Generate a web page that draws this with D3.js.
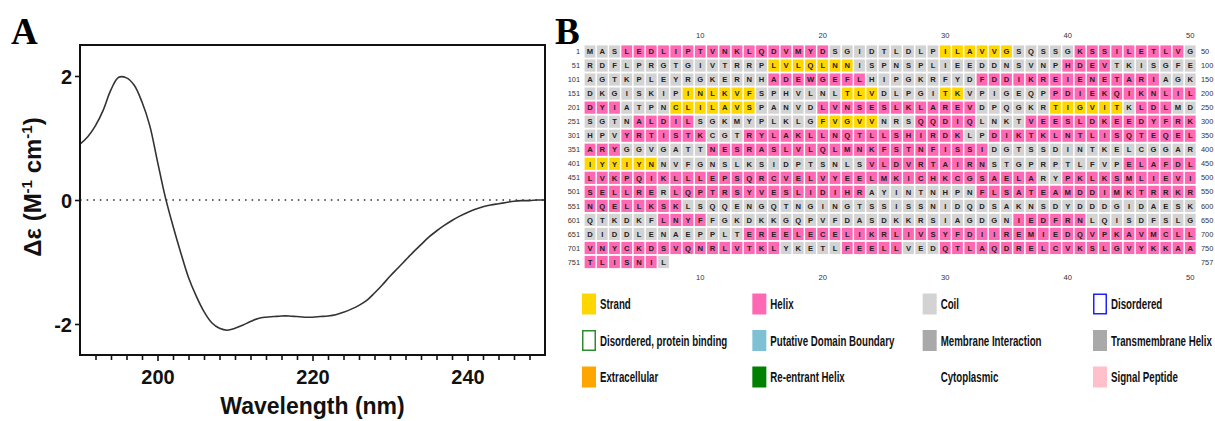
<!DOCTYPE html>
<html><head><meta charset="utf-8">
<script src="https://cdn.jsdelivr.net/npm/d3@7"></script>
<style>body{margin:0;background:#fff}svg{display:block}</style>
</head><body>
<svg id="c" width="1215" height="421"></svg>
<script>
// ---------- Panel A data (CD spectrum) ----------
const wavelength = [190,191,192,193,194,195,196,197,198,199,200,201,202,203,204,205,206,207,208,209,210,
  211,212,213,214,215,216,217,218,219,220,221,222,223,224,225,226,227,228,229,230,
  231,232,233,234,235,236,237,238,239,240,241,242,243,244,245,246,247,248,249,250];
const deltaEps = [0.90,1.02,1.20,1.45,1.78,1.98,1.97,1.85,1.58,1.20,0.62,0.05,-0.42,-0.85,-1.25,-1.55,-1.80,-1.98,-2.07,-2.10,-2.07,
  -2.02,-1.96,-1.91,-1.89,-1.88,-1.87,-1.87,-1.88,-1.89,-1.89,-1.88,-1.87,-1.85,-1.81,-1.76,-1.70,-1.62,-1.50,-1.37,-1.23,
  -1.10,-0.97,-0.84,-0.72,-0.60,-0.50,-0.41,-0.33,-0.26,-0.20,-0.15,-0.11,-0.08,-0.06,-0.04,-0.02,-0.01,-0.01,0.00,0.00];
const xMajorTicks = [200,220,240];
const xMinorTicks = [192,194,196,198,202,204,206,208,210,212,214,216,218,222,224,226,228,230,232,234,236,238,242,244,246,248];
const yTicks = [-2,0,2];

// ---------- Panel B data (sequence + secondary structure) ----------
const seqRows = [
"MASLEDLIPTVNKLQDVMYDSGIDTLDLPILAVVGSQSSGKSSILETLVG",
"RDFLPRGTGIVTRRPLVLQLNNISPNSPLIEEDDNSVNPHDEVTKISGFE",
"AGTKPLEYRGKERNHADEWGEFLHIPGKRFYDFDDIKREIENETARIAGK",
"DKGISKIPINLKVFSPHVLNLTLVDLPGITKVPIGEQPPDIEKQIKNLIL",
"DYIATPNCLILAVSPANVDLVNSESLKLAREVDPQGKRTIGVITKLDLMD",
"SGTNALDILSGKMYPLKLGFVGVVNRSQQDIQLNKTVEESLDKEEDYFRK",
"HPVYRTISTKCGTRYLAKLLNQTLLSHIRDKLPDIKTKLNTLISQTEQEL",
"ARYGGVGATTNESRASLVLQLMNKFSTNFISSIDGTSSDINTKELCGGAR",
"IYYIYNNVFGNSLKSIDPTSNLSVLDVRTAIRNSTGPRPTLFVPELAFDL",
"LVKPQIKLLLEPSQRCVELVYEELMKICHKCGSAELARYPKLKSMLIEVI",
"SELLRERLQPTRSYVESLIDIHRAYINTNHPNFLSATEAMDDIMKTRRKR",
"NQELLKSKLSQQENGQTNGINGTSSISSNIDQDSAKNSDYDDDGIDAESK",
"QTKDKFLNYFFGKDKKGQPVFDASDKKRSIAGDGNIEDFRNLQISDFSLG",
"DIDDLENAEPPLTEREELECELIKRLIVSYFDIIREMIEDQVPKAVMCLL",
"VNYCKDSVQNRLVTKLYKETLFEELLVEDQTLAQDRELCVKSLGVYKKAA",
"TLISNIL"
];
const helixRanges = [[4,20],[41,49],[90,93],[116,123],[133,147],[189,203],[220,232],[246,248],[255,259],[278,282],
  [287,300],[304,310],[314,331],[334,353],[361,383],[424,433],[445,487],[490,506],[508,523],[533,558],[607,610],
  [636,641],[664,716],[722,726],[730,756]];
const strandRanges = [[30,35],[66,72],[159,164],[172,174],[180,181],[208,214],[239,244],[270,274],[401,406]];
const columnTicks = [10,20,30,40,50];

// ---------- Legend ----------
const legendLabels = ["Strand","Helix","Coil","Disordered",
  "Disordered, protein binding","Putative Domain Boundary","Membrane Interaction","Transmembrane Helix",
  "Extracellular","Re-entrant Helix","Cytoplasmic","Signal Peptide"];
const legendFills = ["#ffd700","#ff69b4","#d3d3d3","#ffffff",
  "#ffffff","#80c0d4","#a9a9a9","#a9a9a9",
  "#ffa500","#008000","none","#ffc0cb"];
const legendStrokes = ["none","none","none","#2020ff",
  "#2e8b2e","none","none","none",
  "none","none","none","none"];

const svg = d3.select("#c");
const sans = "'Liberation Sans', Arial, Helvetica, sans-serif";
const serif = "'Liberation Serif', 'Times New Roman', serif";

// Panel letters
svg.append("text").attr("x",11).attr("y",44).attr("font-family",serif).attr("font-weight","bold")
  .attr("font-size",37).text("A");
svg.append("text").attr("x",555).attr("y",44).attr("font-family",serif).attr("font-weight","bold")
  .attr("font-size",37).text("B");

// ---------- Panel A ----------
const x = d3.scaleLinear().domain([190,250]).range([80,545]);
const y = d3.scaleLinear().domain([-2.5,2.5]).range([355,45]);
const gA = svg.append("g");

// zero line
gA.append("line").attr("x1",x(190)).attr("x2",x(250)).attr("y1",y(0)).attr("y2",y(0))
  .attr("stroke","#333").attr("stroke-width",1.6).attr("stroke-dasharray","1.6,5");

// curve
const line = d3.line().x((d,i)=>x(wavelength[i])).y(d=>y(d)).curve(d3.curveCatmullRom);
gA.append("path").datum(deltaEps).attr("d",line).attr("fill","none").attr("stroke","#333").attr("stroke-width",1.6);

// axes
const minor = gA.append("g").attr("transform",`translate(0,${y(-2.5)})`)
  .call(d3.axisBottom(x).tickValues(xMinorTicks).tickSize(5).tickFormat(""));
const major = gA.append("g").attr("transform",`translate(0,${y(-2.5)})`)
  .call(d3.axisBottom(x).tickValues(xMajorTicks).tickSize(6).tickPadding(5).tickFormat(d3.format("d")));
const yax = gA.append("g").attr("transform",`translate(${x(190)},0)`)
  .call(d3.axisLeft(y).tickValues(yTicks).tickSize(5).tickPadding(3).tickFormat(d=>String(d)));
[minor,major,yax].forEach(g=>{
  g.select(".domain").remove();
  g.selectAll(".tick line").attr("stroke","#111").attr("stroke-width",1.6);
  g.selectAll("text").attr("font-family",sans).attr("font-weight","bold").attr("font-size",20).attr("fill","#111");
});
major.selectAll("text").attr("dy","0.9em");
yax.selectAll("text").attr("dy","0.36em");

// frame
gA.append("rect").attr("x",x(190)).attr("y",y(2.5)).attr("width",x(250)-x(190)).attr("height",y(-2.5)-y(2.5))
  .attr("fill","none").attr("stroke","#111").attr("stroke-width",2);

// axis titles
gA.append("text").attr("x",(x(190)+x(250))/2).attr("y",414).attr("text-anchor","middle")
  .attr("font-family",sans).attr("font-weight","bold").attr("font-size",23).attr("fill","#111").text("Wavelength (nm)");
const yt = gA.append("text").attr("transform","translate(41,187) rotate(-90)").attr("text-anchor","middle")
  .attr("font-family",sans).attr("font-weight","bold").attr("font-size",24).attr("fill","#111");
yt.append("tspan").text("Δε (M");
yt.append("tspan").attr("dy",-9).attr("font-size",15).text("-1");
yt.append("tspan").attr("dy",9).text(" cm");
yt.append("tspan").attr("dy",-9).attr("font-size",15).text("-1");
yt.append("tspan").attr("dy",9).text(")");

// ---------- Panel B ----------
const inRanges = (n,rs)=>rs.some(r=>n>=r[0]&&n<=r[1]);
const residues = [];
seqRows.forEach((s,r)=>{
  for(let c=0;c<s.length;c++){
    const n=r*50+c+1;
    residues.push({aa:s[c],n,row:r,col:c+1,ss: inRanges(n,helixRanges)?"H":(inRanges(n,strandRanges)?"E":"C")});
  }
});
const ssColor = d3.scaleOrdinal().domain(["H","E","C"]).range(["#ff69b4","#ffd700","#d3d3d3"]);
const colX = d3.scalePoint().domain(d3.range(1,51)).range([590,1190.25]);
const rowY = d3.scalePoint().domain(d3.range(seqRows.length)).range([51.5,262]);
const cw = 10.8, ch = 12.2;
const gB = svg.append("g");
gB.selectAll("rect.cell").data(residues).join("rect").attr("class","cell")
  .attr("x",d=>colX(d.col)-cw/2).attr("y",d=>rowY(d.row)-ch/2).attr("width",cw).attr("height",ch)
  .attr("fill",d=>ssColor(d.ss));
gB.selectAll("text.aa").data(residues).join("text").attr("class","aa")
  .attr("x",d=>colX(d.col)).attr("y",d=>rowY(d.row)).attr("dy","0.36em").attr("text-anchor","middle")
  .attr("font-family",sans).attr("font-weight","bold").attr("font-size",7.6).attr("fill","#222").text(d=>d.aa);
// row numbers
gB.selectAll("text.rl").data(seqRows).join("text").attr("class","rl")
  .attr("x",580).attr("y",(d,i)=>rowY(i)).attr("dy","0.36em").attr("text-anchor","end")
  .attr("font-family",sans).attr("font-size",7.4).attr("fill","#333").text((d,i)=>i*50+1);
gB.selectAll("text.rr").data(seqRows).join("text").attr("class","rr")
  .attr("x",1201).attr("y",(d,i)=>rowY(i)).attr("dy","0.36em").attr("text-anchor","start")
  .attr("font-family",sans).attr("font-size",7.4).attr("fill","#333").text((d,i)=>i*50+d.length);
// column numbers
[35,277].forEach(yy=>{
  gB.append("g").selectAll("text").data(columnTicks).join("text")
    .attr("x",d=>colX(d)).attr("y",yy).attr("dy","0.36em").attr("text-anchor","middle")
    .attr("font-family",sans).attr("font-size",7.6).attr("fill","#333").text(d=>d);
});

// legend
const legX = d3.scalePoint().domain([0,1,2,3]).range([582,1093]);
const legY = d3.scalePoint().domain([0,1,2]).range([304,377]);
const gL = svg.append("g");
legendLabels.forEach((lab,i)=>{
  const cx = legX(i%4), cy = legY(Math.floor(i/4));
  if(legendFills[i]!=="none"){
    const sw = legendStrokes[i]!=="none";
    gL.append("rect").attr("x",cx+(sw?0.75:0)).attr("y",cy-10.5+(sw?0.75:0))
      .attr("width",sw?12.5:14).attr("height",sw?19.5:21)
      .attr("fill",legendFills[i]).attr("stroke",legendStrokes[i]).attr("stroke-width",sw?1.5:0);
  }
  gL.append("text").attr("transform",`translate(${cx+18},${cy}) scale(0.67,1)`).attr("dy","0.36em")
    .attr("font-family",sans).attr("font-weight","bold").attr("font-size",14.5).attr("fill","#111").text(lab);
});
</script>
</body></html>
